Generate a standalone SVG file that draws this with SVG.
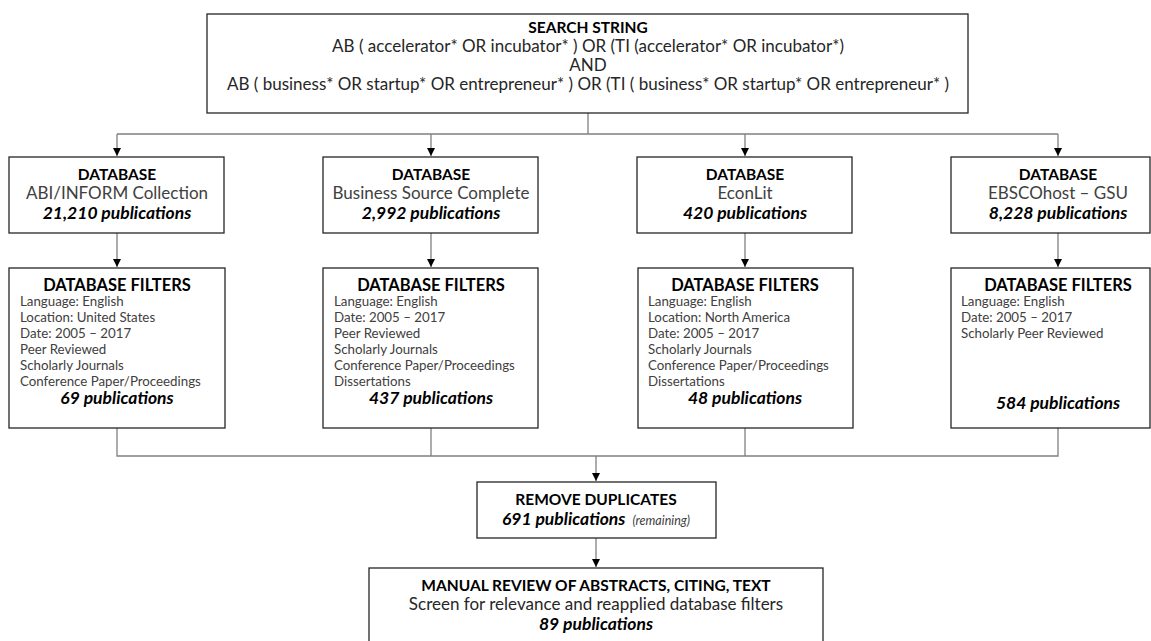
<svg xmlns="http://www.w3.org/2000/svg" width="1151" height="641" viewBox="0 0 1151 641">
<defs>
<marker id="arr" viewBox="0 0 8 8" refX="8" refY="4" markerWidth="8" markerHeight="8" markerUnits="userSpaceOnUse" orient="auto">
<path d="M0,0 L8,4 L0,8 Z" fill="#000"/>
</marker>
<style>
.box{fill:#fff;stroke:#262626;stroke-width:1.3}
.con{fill:none;stroke:#808080;stroke-width:1.3}
text{font-family:Lato,"Liberation Sans",sans-serif}
.t{font-size:15.5px;font-weight:bold;fill:#000;text-anchor:middle}
.tf{font-size:16.5px;font-weight:bold;fill:#000;text-anchor:middle}
.n{font-size:17px;fill:#404040;text-anchor:middle}
.p{font-size:17.5px;font-weight:bold;font-style:italic;fill:#000;text-anchor:middle}
.f{font-size:13.3px;fill:#404040}
.s{font-size:17px;fill:#262626;text-anchor:middle}
.pb{font-size:17.5px;font-weight:bold;font-style:italic;fill:#000}
.r{font-size:12.5px;font-style:italic;fill:#404040}
</style>
</defs>
<rect width="1151" height="641" fill="#fff"/>
<g id="connectors">
<path class="con" d="M588,113 V134 M117,134 H1058"/>
<path class="con" d="M117,134 V156" marker-end="url(#arr)"/>
<path class="con" d="M431,134 V156" marker-end="url(#arr)"/>
<path class="con" d="M745,134 V156" marker-end="url(#arr)"/>
<path class="con" d="M1058,134 V156" marker-end="url(#arr)"/>
<path class="con" d="M117,233 V267" marker-end="url(#arr)"/>
<path class="con" d="M431,233 V267" marker-end="url(#arr)"/>
<path class="con" d="M745,233 V267" marker-end="url(#arr)"/>
<path class="con" d="M1058,233 V267" marker-end="url(#arr)"/>
<path class="con" d="M117,428 V456 H1058 V428 M431,428 V456 M745,428 V456"/>
<path class="con" d="M596,456 V481" marker-end="url(#arr)"/>
<path class="con" d="M596,538 V567" marker-end="url(#arr)"/>
</g>
<g id="search">
<rect class="box" x="207" y="14" width="761" height="99"/>
<text class="t" x="588" y="33">SEARCH STRING</text>
<text class="s" x="588" y="52">AB ( accelerator* OR incubator* ) OR (TI (accelerator* OR incubator*)</text>
<text class="s" x="588" y="71">AND</text>
<text class="s" x="588" y="90">AB ( business* OR startup* OR entrepreneur* ) OR (TI ( business* OR startup* OR entrepreneur* )</text>
</g>
<g id="db1">
<rect class="box" x="9" y="157" width="215" height="76"/>
<text class="t" x="117" y="180">DATABASE</text>
<text class="n" x="117" y="199">ABI/INFORM Collection</text>
<text class="p" x="117" y="219">21,210 publications</text>
</g>
<g id="db2">
<rect class="box" x="323" y="157" width="215" height="76"/>
<text class="t" x="431" y="180">DATABASE</text>
<text class="n" x="431" y="199">Business Source Complete</text>
<text class="p" x="431" y="219">2,992 publications</text>
</g>
<g id="db3">
<rect class="box" x="637" y="157" width="215" height="76"/>
<text class="t" x="745" y="180">DATABASE</text>
<text class="n" x="745" y="199">EconLit</text>
<text class="p" x="745" y="219">420 publications</text>
</g>
<g id="db4">
<rect class="box" x="951" y="157" width="199" height="76"/>
<text class="t" x="1058" y="180">DATABASE</text>
<text class="n" x="1058" y="199">EBSCOhost – GSU</text>
<text class="p" x="1058" y="219">8,228 publications</text>
</g>
<g id="filter1">
<rect class="box" x="9" y="268" width="216" height="160"/>
<text class="tf" x="117" y="291">DATABASE FILTERS</text>
<text class="f" x="20" y="306">Language: English</text>
<text class="f" x="20" y="322">Location: United States</text>
<text class="f" x="20" y="338">Date: 2005 – 2017</text>
<text class="f" x="20" y="354">Peer Reviewed</text>
<text class="f" x="20" y="370">Scholarly Journals</text>
<text class="f" x="20" y="386">Conference Paper/Proceedings</text>
<text class="p" x="117" y="404">69 publications</text>
</g>
<g id="filter2">
<rect class="box" x="323" y="268" width="215" height="160"/>
<text class="tf" x="431" y="291">DATABASE FILTERS</text>
<text class="f" x="334" y="306">Language: English</text>
<text class="f" x="334" y="322">Date: 2005 – 2017</text>
<text class="f" x="334" y="338">Peer Reviewed</text>
<text class="f" x="334" y="354">Scholarly Journals</text>
<text class="f" x="334" y="370">Conference Paper/Proceedings</text>
<text class="f" x="334" y="386">Dissertations</text>
<text class="p" x="431" y="404">437 publications</text>
</g>
<g id="filter3">
<rect class="box" x="638" y="268" width="215" height="160"/>
<text class="tf" x="745" y="291">DATABASE FILTERS</text>
<text class="f" x="648" y="306">Language: English</text>
<text class="f" x="648" y="322">Location: North America</text>
<text class="f" x="648" y="338">Date: 2005 – 2017</text>
<text class="f" x="648" y="354">Scholarly Journals</text>
<text class="f" x="648" y="370">Conference Paper/Proceedings</text>
<text class="f" x="648" y="386">Dissertations</text>
<text class="p" x="745" y="404">48 publications</text>
</g>
<g id="filter4">
<rect class="box" x="951" y="268" width="199" height="160"/>
<text class="tf" x="1058" y="291">DATABASE FILTERS</text>
<text class="f" x="961" y="306">Language: English</text>
<text class="f" x="961" y="322">Date: 2005 – 2017</text>
<text class="f" x="961" y="338">Scholarly Peer Reviewed</text>
<text class="p" x="1058" y="409">584 publications</text>
</g>
<g id="dedup">
<rect class="box" x="477" y="482" width="239" height="56"/>
<text class="t" x="596" y="505">REMOVE DUPLICATES</text>
<text x="596" y="525" text-anchor="middle"><tspan class="pb">691 publications</tspan><tspan class="r" dx="7">(remaining)</tspan></text>
</g>
<g id="manual">
<rect class="box" x="369" y="568" width="454" height="80"/>
<text class="t" x="596" y="591">MANUAL REVIEW OF ABSTRACTS, CITING, TEXT</text>
<text class="s" x="596" y="610">Screen for relevance and reapplied database filters</text>
<text class="p" x="596" y="630">89 publications</text>
</g>
</svg>
